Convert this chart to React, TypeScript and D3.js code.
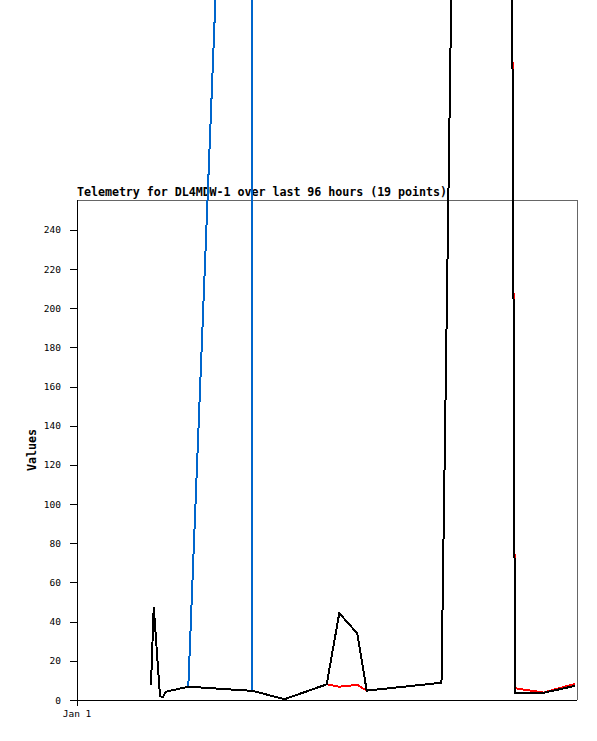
import React from "react";
import * as d3 from "d3";

// hours after Jan 1 00:00 for each of the 19 telemetry points
const hours = [14.21, 14.73, 15.94, 16.51, 17.03, 21.37, 33.41, 33.66, 39.84, 47.94, 50.36, 53.82, 55.62, 69.98, 80.83, 83.81, 84.1, 89.57, 95.62];
const seriesRed = [7.7, 47.5, 2.0, 1.5, 4.2, 6.8, 4.7, 4.7, 0.4, 8.0, 6.8, 7.7, 4.8, 8.8, 2036, 208, 6.0, 3.8, 8.2];
const seriesBlue = [7.7, 47.5, 2.0, 1.5, 4.2, 6.8, 818, 4.7, 0.4, 8.0, 44.3, 34.0, 4.8, 8.8, 2036, 205, 3.7, 3.7, 7.2];
const seriesBlack = [7.7, 47.5, 2.0, 1.5, 4.2, 6.8, 4.7, 4.7, 0.4, 8.0, 44.3, 34.0, 4.8, 8.8, 2036, 205, 3.7, 3.7, 7.2];
const yTicks = [0, 20, 40, 60, 80, 100, 120, 140, 160, 180, 200, 220, 240];
const xTickLabels = ["Jan 1"];
const title = "Telemetry for DL4MDW-1 over last 96 hours (19 points)";
const yLabel = "Values";

const W = 597, H = 741;
const L = 77, R = 577, T = 200, B = 700;

export default function App() {
  const start = new Date(2000, 0, 1, 0, 0, 0);
  const toDate = (h: number) => new Date(start.getTime() + h * 3600000);
  const x = d3.scaleTime().domain([start, toDate(96)]).range([L, R]);
  const y = d3.scaleLinear().domain([0, 255.3]).range([B, T]);
  const line = d3
    .line<number>()
    .x((_, i) => x(toDate(hours[i])))
    .y((v) => y(v));
  const mono = "'DejaVu Sans Mono', monospace";
  const series = [
    { vals: seriesRed, color: "#ff0000" },
    { vals: seriesBlue, color: "#0066cc" },
    { vals: seriesBlack, color: "#000000" },
  ];
  return (
    <div style={{ position: "fixed", left: 0, top: 0 }}>
      <svg width={W} height={H} style={{ display: "block", background: "#fff", overflow: "hidden" }}>
        <rect x={0} y={0} width={W} height={H} fill="#fff" />
        <text x={L} y={196} fontFamily={mono} fontWeight="bold" fontSize={11.7} fill="#000" textLength={370} lengthAdjust="spacing">
          {title}
        </text>
        {/* frame */}
        <line x1={L} y1={T + 0.5} x2={R} y2={T + 0.5} stroke="#666" strokeWidth={1} shapeRendering="crispEdges" />
        <line x1={R + 0.5} y1={T} x2={R + 0.5} y2={B} stroke="#666" strokeWidth={1} shapeRendering="crispEdges" />
        <line x1={L + 0.5} y1={T} x2={L + 0.5} y2={B + 6} stroke="#000" strokeWidth={1} shapeRendering="crispEdges" />
        <line x1={L} y1={B + 0.5} x2={R} y2={B + 0.5} stroke="#000" strokeWidth={1} shapeRendering="crispEdges" />
        {yTicks.map((t) => (
          <g key={t}>
            <line x1={70} y1={Math.round(y(t)) + 0.5} x2={L} y2={Math.round(y(t)) + 0.5} stroke="#000" shapeRendering="crispEdges" />
            <text x={61} y={y(t) + 3.5} textAnchor="end" fontFamily={mono} fontSize={9.5} fill="#000">
              {t}
            </text>
          </g>
        ))}
        {xTickLabels.map((lab, i) => (
          <text key={lab} x={x(toDate(i * 24))} y={717} textAnchor="middle" fontFamily={mono} fontSize={9.5} fill="#000">
            {lab}
          </text>
        ))}
        <text
          transform={`translate(36,450) rotate(-90)`}
          textAnchor="middle"
          fontFamily={mono}
          fontWeight="bold"
          fontSize={11.7}
          fill="#000"
        >
          {yLabel}
        </text>
        {series.map((s, i) => (
          <path
            key={i}
            d={line(s.vals) || ""}
            fill="none"
            stroke={s.color}
            strokeWidth={2}
            strokeLinejoin="miter"
            shapeRendering="crispEdges"
          />
        ))}
      </svg>
    </div>
  );
}
